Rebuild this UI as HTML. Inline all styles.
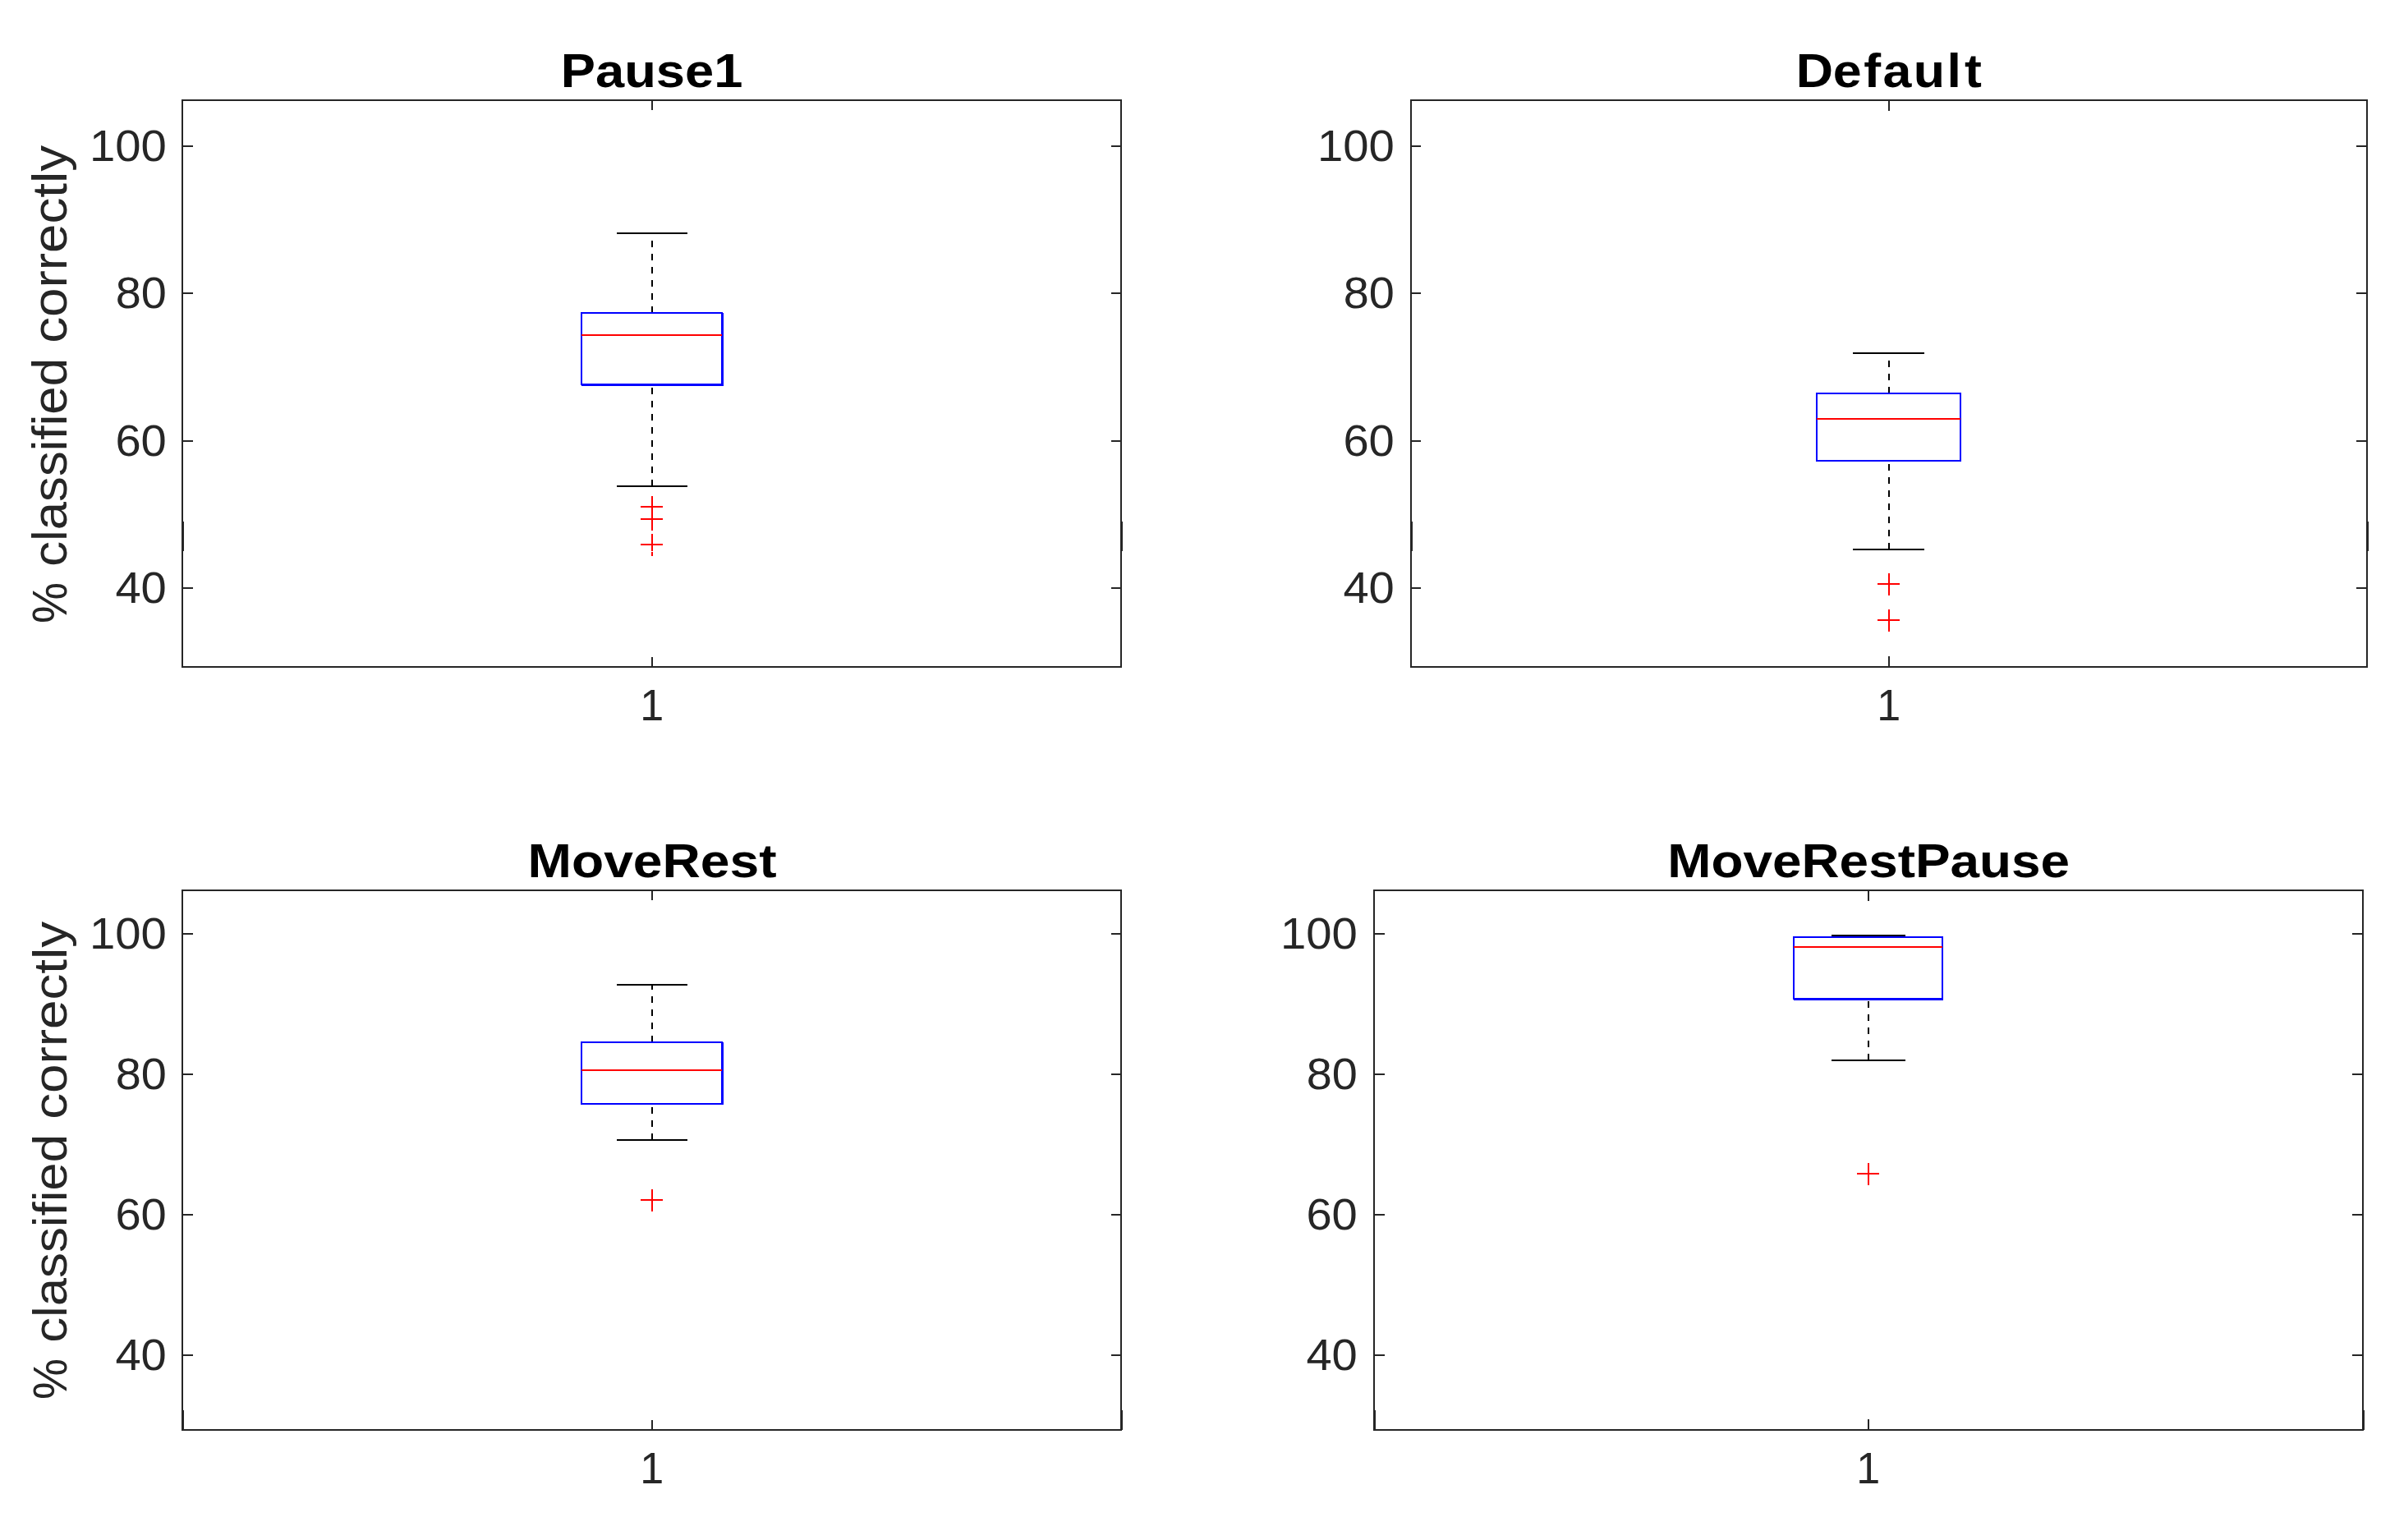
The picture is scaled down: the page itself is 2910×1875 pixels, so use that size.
<!DOCTYPE html>
<html lang="en"><head><meta charset="utf-8"><title>Classification accuracy boxplots</title>
<style>html,body{margin:0;padding:0;background:#fff;width:2910px;height:1875px}svg{display:block}text{font-family:"Liberation Sans",sans-serif}</style></head><body>
<svg width="2910" height="1875" viewBox="0 0 2910 1875" role="img" aria-label="Four boxplots of percent classified correctly">
<rect x="0" y="0" width="2910" height="1875" fill="#ffffff"/>
<g shape-rendering="crispEdges" stroke="#262626" stroke-width="2" fill="none"><rect x="222" y="122" width="1143" height="690"/><path d="M222 178H235M1365 178H1353"/><path d="M222 357H235M1365 357H1353"/><path d="M222 537H235M1365 537H1353"/><path d="M222 716H235M1365 716H1353"/><path d="M794 122V134M794 812V800"/></g>
<g shape-rendering="crispEdges" fill="#262626"><rect x="222" y="635" width="2" height="36"/><rect x="1365" y="635" width="2" height="36"/></g>
<g shape-rendering="crispEdges" fill="none" stroke-width="2"><path d="M794 381V284" stroke="#000" stroke-dasharray="8 8"/><path d="M794 592V468" stroke="#000" stroke-dasharray="8 8"/><path d="M751 284H837M751 592H837" stroke="#000"/><rect x="708" y="381" width="171" height="87" stroke="#0000ff"/><path d="M880 381V470" stroke="#0000ff"/><path d="M708 469H881" stroke="#0000ff"/><path d="M708 408H879" stroke="#ff0000"/><path d="M780 617H807M794 604V631" stroke="#ff0000"/><path d="M780 632H807M794 619V646" stroke="#ff0000"/><path d="M780 663H807M794 650V677" stroke="#ff0000"/></g>
<rect x="793" y="671" width="2" height="1" fill="#ffffff" shape-rendering="crispEdges"/>
<text transform="translate(682.79 106.08) scale(1.0949 1)" font-size="57.80" font-weight="bold" fill="#000">Pause1</text>
<text transform="translate(108.98 196.46) scale(1.0514 1)" font-size="53.52" font-weight="normal" fill="#262626">100</text>
<text transform="translate(140.69 375.46) scale(1.0431 1)" font-size="53.52" font-weight="normal" fill="#262626">80</text>
<text transform="translate(140.40 555.46) scale(1.0481 1)" font-size="53.52" font-weight="normal" fill="#262626">60</text>
<text transform="translate(140.40 734.46) scale(1.0481 1)" font-size="53.52" font-weight="normal" fill="#262626">40</text>
<text transform="translate(779.19 877.00) scale(0.9767 1)" font-size="53.33" font-weight="normal" fill="#262626">1</text>
<g shape-rendering="crispEdges" stroke="#262626" stroke-width="2" fill="none"><rect x="1718" y="122" width="1164" height="690"/><path d="M1718 178H1730M2882 178H2869"/><path d="M1718 357H1730M2882 357H2869"/><path d="M1718 537H1730M2882 537H2869"/><path d="M1718 716H1730M2882 716H2869"/><path d="M2300 122V135M2300 812V799"/></g>
<g shape-rendering="crispEdges" fill="#262626"><rect x="1718" y="635" width="2" height="36"/><rect x="2882" y="635" width="2" height="36"/></g>
<g shape-rendering="crispEdges" fill="none" stroke-width="2"><path d="M2300 479V430" stroke="#000" stroke-dasharray="8 8"/><path d="M2300 669V561" stroke="#000" stroke-dasharray="8 8"/><path d="M2256 430H2343M2256 669H2343" stroke="#000"/><rect x="2212" y="479" width="175" height="82" stroke="#0000ff"/><path d="M2212 510H2387" stroke="#ff0000"/><path d="M2286 711H2313M2300 698V725" stroke="#ff0000"/><path d="M2286 755H2313M2300 742V769" stroke="#ff0000"/></g>
<text transform="translate(2186.72 105.91) scale(1.0850 1)" font-size="57.80" font-weight="bold" fill="#000" letter-spacing="2.246">D<tspan dx="-2.4">efaul</tspan><tspan dx="1.4">t</tspan></text>
<text transform="translate(1603.98 196.46) scale(1.0514 1)" font-size="53.52" font-weight="normal" fill="#262626">100</text>
<text transform="translate(1635.69 375.46) scale(1.0431 1)" font-size="53.52" font-weight="normal" fill="#262626">80</text>
<text transform="translate(1635.40 555.46) scale(1.0481 1)" font-size="53.52" font-weight="normal" fill="#262626">60</text>
<text transform="translate(1635.40 734.46) scale(1.0481 1)" font-size="53.52" font-weight="normal" fill="#262626">40</text>
<text transform="translate(2285.19 877.00) scale(0.9767 1)" font-size="53.33" font-weight="normal" fill="#262626">1</text>
<g shape-rendering="crispEdges" stroke="#262626" stroke-width="2" fill="none"><rect x="222" y="1084" width="1143" height="657"/><path d="M222 1137H235M1365 1137H1353"/><path d="M222 1308H235M1365 1308H1353"/><path d="M222 1479H235M1365 1479H1353"/><path d="M222 1650H235M1365 1650H1353"/><path d="M794 1084V1096M794 1741V1729"/></g>
<g shape-rendering="crispEdges" fill="#262626"><rect x="222" y="1717" width="2" height="24"/><rect x="1365" y="1717" width="2" height="24"/></g>
<g shape-rendering="crispEdges" fill="none" stroke-width="2"><path d="M794 1269V1199" stroke="#000" stroke-dasharray="8 8"/><path d="M794 1388V1344" stroke="#000" stroke-dasharray="8 8"/><path d="M751 1199H837M751 1388H837" stroke="#000"/><rect x="708" y="1269" width="171" height="75" stroke="#0000ff"/><path d="M880 1269V1345" stroke="#0000ff"/><path d="M708 1303H879" stroke="#ff0000"/><path d="M780 1461H807M794 1448V1475" stroke="#ff0000"/></g>
<text transform="translate(642.48 1067.98) scale(1.1105 1)" font-size="57.80" font-weight="bold" fill="#000">MoveRest</text>
<text transform="translate(108.98 1155.46) scale(1.0514 1)" font-size="53.52" font-weight="normal" fill="#262626">100</text>
<text transform="translate(140.69 1326.46) scale(1.0431 1)" font-size="53.52" font-weight="normal" fill="#262626">80</text>
<text transform="translate(140.40 1497.46) scale(1.0481 1)" font-size="53.52" font-weight="normal" fill="#262626">60</text>
<text transform="translate(140.40 1668.46) scale(1.0481 1)" font-size="53.52" font-weight="normal" fill="#262626">40</text>
<text transform="translate(779.19 1806.00) scale(0.9767 1)" font-size="53.33" font-weight="normal" fill="#262626">1</text>
<g shape-rendering="crispEdges" stroke="#262626" stroke-width="2" fill="none"><rect x="1673" y="1084" width="1204" height="657"/><path d="M1673 1137H1686M2877 1137H2864"/><path d="M1673 1308H1686M2877 1308H2864"/><path d="M1673 1479H1686M2877 1479H2864"/><path d="M1673 1650H1686M2877 1650H2864"/><path d="M2275 1084V1097M2275 1741V1728"/></g>
<g shape-rendering="crispEdges" fill="#262626"><rect x="1673" y="1717" width="2" height="24"/><rect x="2877" y="1717" width="2" height="24"/></g>
<g shape-rendering="crispEdges" fill="none" stroke-width="2"><path d="M2275 1291V1216" stroke="#000" stroke-dasharray="8 8"/><path d="M2230 1139H2320M2230 1291H2320" stroke="#000"/><rect x="2184" y="1141" width="181" height="75" stroke="#0000ff"/><path d="M2184 1217H2366" stroke="#0000ff"/><path d="M2184 1153H2365" stroke="#ff0000"/><path d="M2261 1429H2288M2275 1416V1443" stroke="#ff0000"/></g>
<text transform="translate(2030.25 1068.08) scale(1.1050 1)" font-size="57.80" font-weight="bold" fill="#000">MoveRestPause</text>
<text transform="translate(1558.98 1155.46) scale(1.0514 1)" font-size="53.52" font-weight="normal" fill="#262626">100</text>
<text transform="translate(1590.69 1326.46) scale(1.0431 1)" font-size="53.52" font-weight="normal" fill="#262626">80</text>
<text transform="translate(1590.40 1497.46) scale(1.0481 1)" font-size="53.52" font-weight="normal" fill="#262626">60</text>
<text transform="translate(1590.40 1668.46) scale(1.0481 1)" font-size="53.52" font-weight="normal" fill="#262626">40</text>
<text transform="translate(2260.19 1806.00) scale(0.9767 1)" font-size="53.33" font-weight="normal" fill="#262626">1</text>
<text transform="translate(81.30 417.77) rotate(-90) scale(1.0901 1)" font-size="58.48" fill="#262626">correctly</text>
<text transform="translate(81.30 689.78) rotate(-90) scale(1.0554 1)" font-size="58.48" fill="#262626">classified</text>
<text transform="translate(81.30 758.97) rotate(-90) scale(0.9613 1)" font-size="58.48" fill="#262626">&#37;</text>
<text transform="translate(81.00 1362.77) rotate(-90) scale(1.0979 1)" font-size="58.07" fill="#262626">correctly</text>
<text transform="translate(81.00 1634.78) rotate(-90) scale(1.0630 1)" font-size="58.07" fill="#262626">classified</text>
<text transform="translate(81.00 1703.97) rotate(-90) scale(0.9682 1)" font-size="58.07" fill="#262626">&#37;</text>
</svg></body></html>
